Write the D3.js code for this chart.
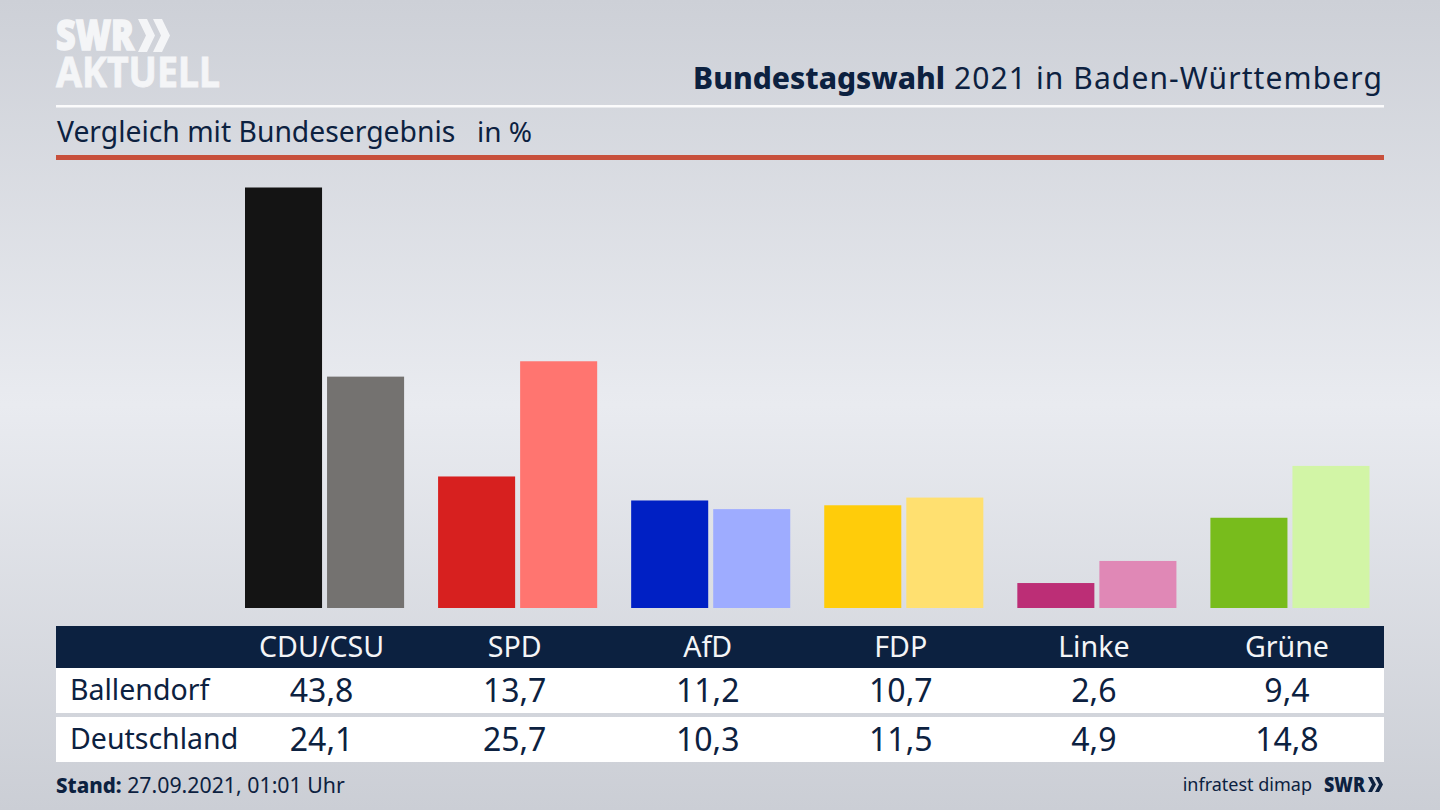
<!DOCTYPE html>
<html>
<head>
<meta charset="utf-8">
<script src="https://cdn.jsdelivr.net/npm/d3@7"></script>
<style>
html, body { margin: 0; padding: 0; overflow: hidden; }
text { font-family: "Noto Sans", sans-serif; fill: #0c2140; }
</style>
</head>
<body>
<div id="chart"></div>
<script>
var parties = ["CDU/CSU", "SPD", "AfD", "FDP", "Linke", "Grüne"];
var ballendorf = [43.8, 13.7, 11.2, 10.7, 2.6, 9.4];
var deutschland = [24.1, 25.7, 10.3, 11.5, 4.9, 14.8];
var rowNames = ["Ballendorf", "Deutschland"];
var darkColors = ["#141414", "#d7201f", "#0020c4", "#ffcc0a", "#bc2e76", "#78bc1c"];
var lightColors = ["#747270", "#ff7570", "#9eacff", "#ffe070", "#e088b6", "#d2f5a6"];

var dims = { width: 1440, height: 810, left: 56, right: 1384 };

var svg = d3.select("#chart").append("svg")
    .attr("width", dims.width)
    .attr("height", dims.height)
    .style("display", "block");

var grad = svg.append("defs").append("linearGradient")
    .attr("id", "bg")
    .attr("x1", 0).attr("x2", 0).attr("y1", 0).attr("y2", 1);
[[0, "#cdd0d7"], [0.5, "#e9ebf0"], [1, "#cbced5"]].forEach(function (s) {
    grad.append("stop").attr("offset", s[0]).attr("stop-color", s[1]);
});
svg.append("rect").attr("width", dims.width).attr("height", dims.height).attr("fill", "url(#bg)");

// logo
svg.append("text").attr("x", 56).attr("y", 50)
    .attr("textLength", 78).attr("lengthAdjust", "spacingAndGlyphs")
    .style("font-size", "42px").style("font-weight", 900)
    .style("fill", "#f4f5f7").style("stroke", "#f4f5f7").style("stroke-width", 1.5)
    .text("SWR");
svg.append("text").attr("x", 56).attr("y", 87)
    .attr("textLength", 164).attr("lengthAdjust", "spacingAndGlyphs")
    .style("font-size", "42px").style("font-weight", 700)
    .style("fill", "#f4f5f7").style("stroke", "#f4f5f7").style("stroke-width", 0.8)
    .text("AKTUELL");

function chevrons(x, y, offset, arm, slant, h, color) {
    [0, 1].forEach(function (i) {
        var x0 = x + i * offset;
        svg.append("path")
            .attr("d", "M" + x0 + "," + y + "l" + arm + ",0l" + slant + "," + h / 2 +
                "l" + (-slant) + "," + h / 2 + "l" + (-arm) + ",0l" + slant + "," + (-h / 2) + "z")
            .attr("fill", color);
    });
}
chevrons(138, 19, 15, 9, 8, 33, "#f4f5f7");

// header
svg.append("rect").attr("x", dims.left).attr("y", 105).attr("width", dims.right - dims.left).attr("height", 2.5).attr("fill", "#fbfbfc");
svg.append("rect").attr("x", dims.left).attr("y", 155).attr("width", dims.right - dims.left).attr("height", 5).attr("fill", "#c8503c");

var title = svg.append("text").attr("x", 1383).attr("y", 89).attr("text-anchor", "end").style("font-size", "30px");
title.append("tspan").style("font-weight", 800).text("Bundestagswahl");
title.append("tspan").style("letter-spacing", "1.1px").text(" 2021 in Baden-Württemberg");

svg.append("text").attr("x", 57).attr("y", 142).style("font-size", "28.3px").text("Vergleich mit Bundesergebnis");
svg.append("text").attr("x", 477).attr("y", 142).style("font-size", "28px").text("in %");

// bars
var x0 = d3.scaleBand().domain(parties).range([245, 1369.5]).paddingInner(0.176).paddingOuter(0);
var x1 = d3.scaleBand().domain([0, 1]).range([0, x0.bandwidth()]).paddingInner(0.061).paddingOuter(0);
var y = d3.scaleLinear().domain([0, 43.8]).range([608, 187.5]);

var groups = svg.selectAll("g.party")
    .data(parties)
    .enter()
    .append("g")
    .attr("class", "party")
    .attr("transform", function (d) { return "translate(" + x0(d) + ",0)"; });

groups.append("rect")
    .attr("x", x1(0))
    .attr("width", x1.bandwidth())
    .attr("y", function (d, i) { return y(ballendorf[i]); })
    .attr("height", function (d, i) { return y(0) - y(ballendorf[i]); })
    .attr("fill", function (d, i) { return darkColors[i]; });

groups.append("rect")
    .attr("x", x1(1))
    .attr("width", x1.bandwidth())
    .attr("y", function (d, i) { return y(deutschland[i]); })
    .attr("height", function (d, i) { return y(0) - y(deutschland[i]); })
    .attr("fill", function (d, i) { return lightColors[i]; });

// table
var colX = function (d) { return x0(d) + x0.bandwidth() / 2 - 3; };
var fmt = function (v) { return v.toFixed(1).replace(".", ","); };

svg.append("rect").attr("x", dims.left).attr("y", 626).attr("width", dims.right - dims.left).attr("height", 42).attr("fill", "#0c2140");
svg.append("rect").attr("x", dims.left).attr("y", 668).attr("width", dims.right - dims.left).attr("height", 45).attr("fill", "#fff");
svg.append("rect").attr("x", dims.left).attr("y", 717).attr("width", dims.right - dims.left).attr("height", 45).attr("fill", "#fff");

svg.selectAll("text.head")
    .data(parties)
    .enter()
    .append("text")
    .attr("class", "head")
    .attr("x", colX)
    .attr("y", 657)
    .attr("text-anchor", "middle")
    .style("font-size", "28.6px")
    .style("fill", "#f4f5f7")
    .text(function (d) { return d; });

[ballendorf, deutschland].forEach(function (vals, r) {
    var base = r === 0 ? 700 : 749;
    svg.append("text").attr("x", 70).attr("y", base).style("font-size", "28.5px").text(rowNames[r]);
    svg.selectAll("text.row" + r)
        .data(vals)
        .enter()
        .append("text")
        .attr("class", "row" + r)
        .attr("x", function (d, i) { return colX(parties[i]); })
        .attr("y", base + 2)
        .attr("text-anchor", "middle")
        .style("font-size", "32px")
        .text(fmt);
});

// footer
var stand = svg.append("text").attr("x", 56).attr("y", 793).style("font-size", "21.3px");
stand.append("tspan").style("font-weight", 800).style("font-size", "20.5px").text("Stand:");
stand.append("tspan").text(" 27.09.2021, 01:01 Uhr");

svg.append("text").attr("x", 1312).attr("y", 791).attr("text-anchor", "end").style("font-size", "18px").text("infratest dimap");
svg.append("text").attr("x", 1324).attr("y", 792)
    .attr("textLength", 41).attr("lengthAdjust", "spacingAndGlyphs")
    .style("font-size", "21px").style("font-weight", 900).text("SWR");
chevrons(1368, 777, 7, 4, 4, 15, "#0c2140");
</script>
</body>
</html>
